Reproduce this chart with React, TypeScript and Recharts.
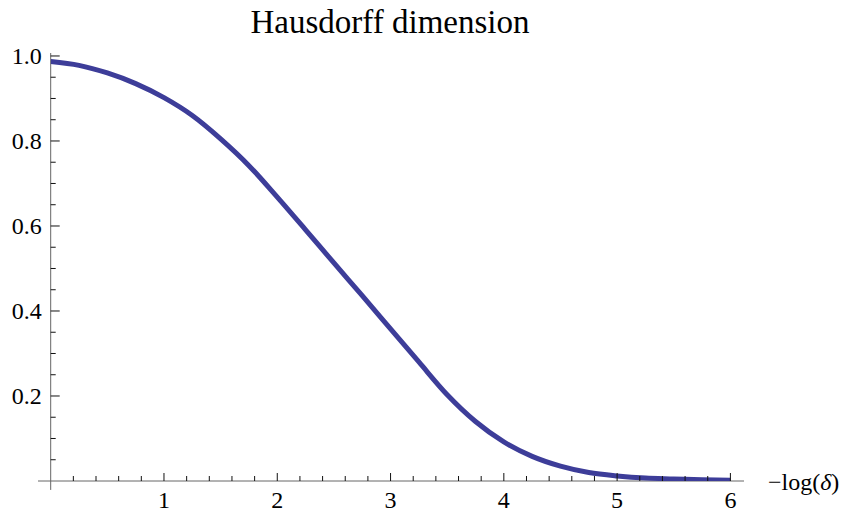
import React from "react";
import { LineChart, Line, XAxis, YAxis, ReferenceLine } from "recharts";

// -log(delta) sample points and the read-off dimension values
const logDelta = [0, 0.25, 0.5, 0.75, 1, 1.25, 1.5, 1.75, 2, 2.25, 2.5, 2.75, 3, 3.25, 3.5, 3.75, 4, 4.25, 4.5, 4.75, 5, 5.25, 5.5, 5.75, 6];
const dimension = [0.987, 0.978, 0.96, 0.935, 0.902, 0.86, 0.805, 0.742, 0.668, 0.591, 0.513, 0.436, 0.358, 0.28, 0.203, 0.14, 0.092, 0.058, 0.035, 0.02, 0.012, 0.007, 0.005, 0.003, 0.002];

const xTicks = [0.2, 0.4, 0.6, 0.8, 1, 1.2, 1.4, 1.6, 1.8, 2, 2.2, 2.4, 2.6, 2.8, 3, 3.2, 3.4, 3.6, 3.8, 4, 4.2, 4.4, 4.6, 4.8, 5, 5.2, 5.4, 5.6, 5.8, 6];
const yTicks = [0.05, 0.1, 0.15, 0.2, 0.25, 0.3, 0.35, 0.4, 0.45, 0.5, 0.55, 0.6, 0.65, 0.7, 0.75, 0.8, 0.85, 0.9, 0.95, 1];

const title = "Hausdorff dimension";

const data = logDelta.map((x, i) => ({ x, d: dimension[i] }));

const FONT = "'Liberation Serif', 'DejaVu Serif', serif";
const AXIS = "#666";
const TICK = "#111";

const isMultiple = (v: number, step: number) => Math.abs(v / step - Math.round(v / step)) < 1e-6;

const XTick = (props: any) => {
    const { x, y, payload } = props;
    const major = isMultiple(payload.value, 1);
    return (
        <g>
            <line x1={x} x2={x} y1={y} y2={y - (major ? 8 : 5)} stroke={TICK} strokeWidth={1} />
            {major && (
                <text x={x} y={y + 27} textAnchor="middle" fontFamily={FONT} fontSize={24} fill="#000">
                    {payload.value}
                </text>
            )}
        </g>
    );
};

const YTick = (props: any) => {
    const { x, y, payload } = props;
    const major = isMultiple(payload.value, 0.2);
    return (
        <g>
            <line x1={x} x2={x + (major ? 9 : 5)} y1={y} y2={y} stroke={TICK} strokeWidth={1} />
            {major && (
                <text x={x - 9} y={y + 8} textAnchor="end" fontFamily={FONT} fontSize={24} fill="#000">
                    {payload.value.toFixed(1)}
                </text>
            )}
        </g>
    );
};

const App = () => {
    return (
        <div style={{ position: "absolute", left: 0, top: 0, background: "#fff", fontFamily: FONT }}>
            <LineChart width={843} height={515} data={data} margin={{ top: 53, right: 99, bottom: 0, left: 0 }}>
                <XAxis
                    dataKey="x"
                    type="number"
                    domain={[0, 6.12]}
                    allowDataOverflow
                    ticks={xTicks}
                    interval={0}
                    height={34}
                    axisLine={false}
                    tickLine={false}
                    tickSize={0}
                    tickMargin={0}
                    tick={<XTick />}
                    label={() => (
                        <text x={768} y={490} fontFamily={FONT} fontSize={24} fill="#000">
                            −log(<tspan fontStyle="italic">δ</tspan>)
                        </text>
                    )}
                />
                <YAxis
                    type="number"
                    domain={[0, 1.007]}
                    allowDataOverflow
                    ticks={yTicks}
                    interval={0}
                    width={50.7}
                    axisLine={false}
                    tickLine={false}
                    tickSize={0}
                    tickMargin={0}
                    tick={<YTick />}
                    label={() => (
                        <text x={390} y={33} textAnchor="middle" fontFamily={FONT} fontSize={33} fill="#000">
                            {title}
                        </text>
                    )}
                />
                <ReferenceLine
                    segment={[{ x: -0.112, y: 0 }, { x: 6.12, y: 0 }]}
                    stroke={AXIS}
                    strokeWidth={1}
                    ifOverflow="visible"
                />
                <ReferenceLine
                    segment={[{ x: 0, y: -0.021 }, { x: 0, y: 1.007 }]}
                    stroke={AXIS}
                    strokeWidth={1}
                    ifOverflow="visible"
                />
                <Line
                    type="monotone"
                    dataKey="d"
                    stroke="#3d3d99"
                    strokeWidth={5}
                    dot={false}
                    activeDot={false}
                    isAnimationActive={false}
                />
            </LineChart>
        </div>
    );
};

export default App;
